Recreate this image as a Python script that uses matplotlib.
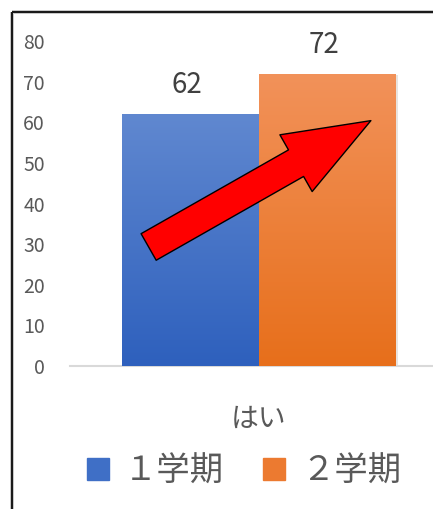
import matplotlib
matplotlib.use("Agg")
import matplotlib.pyplot as plt
import numpy as np
from matplotlib.colors import LinearSegmentedColormap
from matplotlib.lines import Line2D
import matplotlib.patheffects as pe

plt.rcParams['font.family'] = ['Noto Sans CJK JP', 'DejaVu Sans']

# data
category = "はい"
series_names = ["１学期", "２学期"]
values = [62, 72]
y_ticks = [0, 10, 20, 30, 40, 50, 60, 70, 80]

# colours (top, bottom of gradient)
grads = [("#6088d0", "#2e60bd"), ("#f2925a", "#e76f1b")]
legend_colors = ["#3f6fc6", "#ec7a30"]
text_grey = "#595959"

W, H = 433, 509
fig = plt.figure(figsize=(W / 100, H / 100), dpi=100)

# plot area (extends past right edge, the reference is cropped)
left, right, bottom, top = 70, 448, 366, 41
ax = fig.add_axes([left / W, (H - bottom) / H, (right - left) / W, (bottom - top) / H])
ax.set_xlim(-0.5, 0.5)
ax.set_ylim(0, 80)

bar_w = 137 / (right - left)
xs = [-bar_w / 2, bar_w / 2]
bars = ax.bar(xs, values, width=bar_w, color=[g[1] for g in grads], zorder=2,
              path_effects=[pe.SimplePatchShadow(offset=(1.5, -1), alpha=0.12), pe.Normal()])

# vertical gradient clipped to each bar
for b, (c_top, c_bot) in zip(bars, grads):
    cmap = LinearSegmentedColormap.from_list("g", [c_bot, c_top])
    grad = np.linspace(0, 1, 256).reshape(-1, 1)
    x0, y0 = b.get_x(), b.get_y()
    im = ax.imshow(grad, cmap=cmap, origin="lower", aspect="auto",
                   extent=[x0, x0 + b.get_width(), y0, y0 + b.get_height()], zorder=3)
    im.set_clip_path(b)
ax.set_xlim(-0.5, 0.5)
ax.set_ylim(0, 80)

for x, v in zip(xs, values):
    ax.text(x - 0.01, v + 3.4, str(v), ha="center", va="bottom", fontsize=20,
            color="#404040", clip_on=False)

# axes styling
for s in ["top", "right", "left"]:
    ax.spines[s].set_visible(False)
ax.spines["bottom"].set_color("#d9d9d9")
ax.spines["bottom"].set_linewidth(1.5)
ax.set_yticks(y_ticks)
ax.set_yticklabels([str(t) for t in y_ticks])
ax.tick_params(axis="y", length=0, pad=18, labelsize=14, labelcolor=text_grey)
ax.set_xticks([0])
ax.set_xticklabels([category])
ax.tick_params(axis="x", length=0, pad=27, labelsize=20, labelcolor=text_grey)

# red arrow
ax.annotate("", xy=(0.296, 60.4), xytext=(-0.292, 29.3),
            arrowprops=dict(arrowstyle="simple,head_length=62,head_width=47,tail_width=22",
                            mutation_scale=1, fc="#ff0000", ec="black", lw=1,
                            shrinkA=0, shrinkB=0),
            zorder=5)

# legend
handles = [Line2D([], [], marker="s", ls="", markersize=16, color=c) for c in legend_colors]
fig.legend(handles, series_names, loc="center", bbox_to_anchor=(241 / W, (H - 471) / H),
           ncol=2, frameon=False, fontsize=24, labelcolor=text_grey,
           handletextpad=0.3, columnspacing=1.0, handlelength=1.0)

# frame lines (left and top border of the screenshot)
for lw, col in [(4, "#c8c8c8"), (2, "#1a1a1a")]:
    fig.add_artist(Line2D([11.5 / W, 11.5 / W], [0, (H - 11.5) / H], lw=lw * 0.72, color=col,
                          transform=fig.transFigure, solid_capstyle="butt"))
    fig.add_artist(Line2D([11.5 / W, 1], [(H - 11.5) / H, (H - 11.5) / H], lw=lw * 0.72,
                          color=col, transform=fig.transFigure, solid_capstyle="butt"))

fig.savefig("out.png", dpi=100)
